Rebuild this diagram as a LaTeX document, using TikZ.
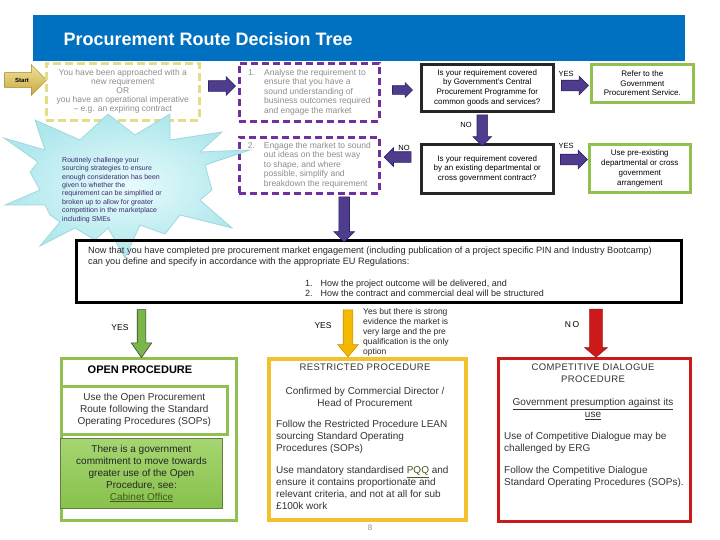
\documentclass[tikz,border=0pt]{standalone}
\usepackage{fontspec}
\setmainfont{Liberation Sans}
\usepackage{xcolor}
\definecolor{bannerblue}{HTML}{0070C0}
\definecolor{startgold}{HTML}{E8C84A}
\definecolor{startedge}{HTML}{9C8420}
\definecolor{introyellow}{HTML}{E2DE86}
\definecolor{stepviolet}{HTML}{7030A0}
\definecolor{arrowviolet}{HTML}{4F3C8C}
\definecolor{arrowedge}{HTML}{2E2366}
\definecolor{textgrey}{HTML}{8C8C8C}
\definecolor{okgreen}{HTML}{92C050}
\definecolor{okarrow}{HTML}{7AB648}
\definecolor{fillgreen}{HTML}{8FCB4F}
\definecolor{linkgreen}{HTML}{3F5A1A}
\definecolor{restrictgold}{HTML}{F2C12E}
\definecolor{arrowgold}{HTML}{F5B800}
\definecolor{dialoguered}{HTML}{CC1A1A}
\definecolor{burstcyan}{HTML}{D2F7F9}
\definecolor{burstdeep}{HTML}{AEE7EC}
\definecolor{burstedge}{HTML}{9ED8DF}
\definecolor{bursttext}{HTML}{3A2A6E}
\usepackage{tikz}
\usetikzlibrary{
  arrows.meta,
  positioning,
  shapes.arrows,
  calc,
}

\newcommand{\fsz}[2]{\fontsize{#1}{#2}\selectfont}

\begin{document}
\begin{tikzpicture}[
  x=1pt, y=-1pt,
  frame/.style={rectangle, anchor=north west, inner sep=0pt},
  introbox/.style={frame, draw=introyellow, line width=2.6pt, dash pattern=on 8pt off 4pt, text=textgrey, align=center, font=\fsz{8.5}{9}},
  stepbox/.style={frame, draw=stepviolet, line width=2.6pt, dash pattern=on 7pt off 4pt, text=textgrey, font=\fsz{8.5}{9.5}},
  askbox/.style={frame, draw=black!85, line width=2.6pt, align=center, font=\fsz{8}{9.8}},
  endbox/.style={frame, draw=okgreen, line width=2.6pt, align=center, font=\fsz{8}{9.8}},
  routebox/.style={frame, line width=3pt},
  body/.style={inner sep=0pt, text=black!80, font=\fsz{10}{12}},
  capsline/.style={inner sep=0pt, text=black!80, align=center, font=\fsz{9.5}{12}\addfontfeature{LetterSpace=4}},
  yn/.style={inner sep=0pt, font=\fsz{7.5}{9}},
  blockarr/.style={single arrow, single arrow head indent=0pt, line width=0.6pt},
  parr/.style={blockarr, fill=arrowviolet, draw=arrowedge, inner xsep=0pt, inner ysep=5pt, single arrow head extend=4pt},
  down/.style={shape border rotate=270, inner ysep=0pt, inner xsep=#1},
  garr/.style={blockarr, fill=okarrow, draw=black!75, down=4pt, single arrow head extend=6pt, single arrow tip angle=70},
  yarr/.style={blockarr, fill=arrowgold, draw=arrowgold!80!black, down=4.5pt, single arrow head extend=5.5pt, single arrow tip angle=80},
  rarr/.style={blockarr, fill=dialoguered, draw=dialoguered!80!black, down=6pt, single arrow head extend=5pt, single arrow tip angle=100},
]
  \useasboundingbox (0,0) rectangle (720,540);

  % Banner
  \node[frame, fill=bannerblue, minimum width=652pt, minimum height=46pt] (banner) at (33,15) {};
  \node[anchor=west, text=white, font=\bfseries\fsz{18}{20}] (title) at (60,39) {Procurement Route Decision Tree};

  % Entry
  \node[single arrow, single arrow head extend=8pt, single arrow head indent=0pt, inner xsep=2pt, inner ysep=5pt,
        minimum height=42pt, top color=startgold!55!white, bottom color=startgold!85!black, draw=startedge,
        font=\bfseries\fsz{6}{7}] (start) at (22,80) {Start};
  \node[introbox, minimum width=153pt, minimum height=57pt] (intro) at (45,62)
    {You have been approached with a\\new requirement\\OR\\you have an operational imperative\\-- e.g. an expiring contract};

  % Market steps
  \node[stepbox, minimum width=140pt, minimum height=58pt] (analyse) at (238,62)
    {\begin{tabular}{@{}l@{\hspace{9pt}}l@{}}1. & Analyse the requirement to\\ & ensure that you have a\\ & sound understanding of\\ & business outcomes required\\ & and engage the market\end{tabular}};
  \node[stepbox, minimum width=140pt, minimum height=56pt] (engage) at (238,136)
    {\begin{tabular}{@{}l@{\hspace{9pt}}l@{}}2. & Engage the market to sound\\ & out ideas on the best way\\ & to shape, and where\\ & possible, simplify and\\ & breakdown the requirement\end{tabular}};

  % Questions
  \node[askbox, minimum width=132pt, minimum height=47pt] (askcentral) at (420,63)
    {Is your requirement covered\\by Government's Central\\Procurement Programme for\\common goods and services?};
  \node[askbox, minimum width=132pt, minimum height=49pt] (askexisting) at (420,143)
    {Is your requirement covered\\by an existing departmental or\\cross government contract?};

  % Outcomes
  \node[endbox, minimum width=102pt, minimum height=38pt] (gps) at (590,63)
    {Refer to the\\Government\\Procurement Service.};
  \node[endbox, minimum width=101pt, minimum height=48pt] (existing) at (588,143)
    {Use pre-existing\\departmental or cross\\government\\arrangement};

  % Challenge burst
  \shade[inner color=burstcyan!50!white, outer color=burstdeep, draw=burstedge, line width=0.8pt]
    (4,138) -- (45,150) -- (35,120) -- (80,140) -- (108,114) -- (135,135) -- (170,114)
    -- (170,140) -- (222,132) -- (200,152) -- (250,150) -- (205,165) -- (212,190)
    -- (200,200) -- (232,228) -- (180,215) -- (165,234) -- (140,225) -- (125,258)
    -- (108,228) -- (95,240) -- (75,228) -- (40,246) -- (60,222) -- (50,215)
    -- (45,205) -- (5,205) -- (40,190) -- (30,172) -- (38,162) -- cycle;
  \node[anchor=north west, inner sep=0pt, align=left, text=bursttext, font=\fsz{7}{8.4}] (challenge) at (62,157)
    {Routinely challenge your\\sourcing strategies to ensure\\enough consideration has been\\given to whether the\\requirement can be simplified or\\broken up to allow for greater\\competition in the marketplace\\including SMEs};

  % Define and specify
  \node[frame, draw=black, line width=3pt, minimum width=605pt, minimum height=62pt] (define) at (75,239) {};
  \node[anchor=north west, inner sep=0pt, align=left, text=black!85, font=\fsz{9.2}{11}] (definetext) at (88,247)
    {Now that you have completed pre procurement market engagement (including publication of a project specific PIN and Industry Bootcamp)\\can you define and specify in accordance with the appropriate EU Regulations:};
  \node[anchor=north west, inner sep=0pt, text=black!85, font=\fsz{9}{10}] (deliver) at (305,279)
    {\begin{tabular}{@{}l@{\hspace{8pt}}l@{}}1. & How the project outcome will be delivered, and\\2. & How the contract and commercial deal will be structured\end{tabular}};

  % Routes
  \node[routebox, draw=okgreen, minimum width=175pt, minimum height=162pt] (open) at (60,357) {};
  \node[anchor=north, inner sep=0pt, font=\bfseries\fsz{11}{13}] (opentitle) at (140,366) {OPEN PROCEDURE};
  \node[frame, draw=okgreen, line width=2.5pt, fill=white, minimum width=166pt, minimum height=48pt,
        align=center, text=black!80, font=\fsz{10}{12}] (opensop) at (60,385)
    {Use the Open Procurement\\Route following the Standard\\Operating Procedures (SOPs)};
  \node[frame, draw=linkgreen!80, line width=1pt, top color=fillgreen!80!white, bottom color=fillgreen!95!black,
        minimum width=162pt, minimum height=70pt, align=center, text=black!85, font=\fsz{10}{12}] (commit) at (60,438)
    {There is a government\\commitment to move towards\\greater use of the Open\\Procedure, see:\\\textcolor{linkgreen}{\underline{Cabinet Office}}};

  \node[routebox, draw=restrictgold, line width=4pt, minimum width=197pt, minimum height=161pt] (restricted) at (267,357) {};
  \node[capsline, anchor=north] (restrictedtitle) at (365,364) {RESTRICTED PROCEDURE};
  \node[body, anchor=north, align=center] (confirmed) at (365,387.5)
    {Confirmed by Commercial Director /\\Head of Procurement};
  \node[body, anchor=north west, align=left] (lean) at (276,420.5)
    {Follow the Restricted Procedure LEAN\\sourcing Standard Operating\\Procedures (SOPs)};
  \node[body, anchor=north west, align=left] (pqq) at (276,466.5)
    {Use mandatory standardised \textcolor{linkgreen}{\underline{PQQ}} and\\ensure it contains proportionate and\\relevant criteria, and not at all for sub\\\pounds100k work};

  \node[routebox, draw=dialoguered, minimum width=192pt, minimum height=163pt] (dialogue) at (497,357) {};
  \node[capsline, anchor=north] (dialoguetitle) at (593,363.5) {COMPETITIVE DIALOGUE\\PROCEDURE};
  \node[body, anchor=north, align=center] (presumption) at (593,398.5)
    {\underline{Government presumption against its}\\\underline{use}};
  \node[body, anchor=north west, align=left] (erg) at (504,432.5)
    {Use of Competitive Dialogue may be\\challenged by ERG};
  \node[body, anchor=north west, align=left] (cdsop) at (504,466.5)
    {Follow the Competitive Dialogue\\Standard Operating Procedures (SOPs).};

  % Block arrows
  \node[parr, minimum height=27pt] (tostep) at ($(intro.east)!.5!(analyse.west)$) [yshift=6pt] {};
  \node[parr, minimum height=20pt, inner ysep=4pt, single arrow head extend=3pt] (toask) at ($(analyse.east)!.5!(askcentral.west)$) {};
  \node[parr, minimum height=27pt] (yescentral) at ($(askcentral.east)!.5!(gps.west)$) {};
  \node[parr, down=5pt, minimum height=31pt] (nocentral) at ($(askcentral.south)!.5!(askexisting.north)$) [xshift=-5pt] {};
  \node[parr, minimum height=27pt, shape border rotate=180] (noexisting) at ($(askexisting.west)!.5!(engage.east)$) [yshift=10pt] {};
  \node[parr, minimum height=27pt] (yesexisting) at ($(askexisting.east)!.5!(existing.west)$) [yshift=9pt] {};
  \node[parr, down=5pt, minimum height=45pt, single arrow head extend=5pt] (todefine) at ($(engage.south)!.5!(define.north)$) {};

  \node[garr, minimum height=48pt] (yesopen) at ($(define.south -| open.north)!.5!(open.north)$) [xshift=-7.5pt] {};
  \node[yarr, minimum height=47pt] (yesrestricted) at ($(define.south -| restricted.north)!.5!(restricted.north)$) [xshift=-19.5pt] {};
  \node[rarr, minimum height=48pt] (nodialogue) at ($(define.south -| dialogue.north)!.5!(dialogue.north)$) [xshift=1.5pt] {};

  % Labels
  \node[yn] (yes1) at (566,74) {YES};
  \node[yn] (no1) at (466,125) {NO};
  \node[yn] (no2) at (404,148) {NO};
  \node[yn] (yes2) at (566,146) {YES};
  \node[yn, font=\fsz{8.5}{10}] (yes3) at (120,328) {YES};
  \node[yn, font=\fsz{8.5}{10}] (yes4) at (323,326) {YES};
  \node[yn, font=\fsz{8.5}{10}\addfontfeature{LetterSpace=20}] (no3) at (572,325) {NO};
  \node[anchor=north west, inner sep=0pt, align=left, text=black!85, font=\fsz{8.5}{9.8}] (largemarket) at (363,308.5)
    {Yes but there is strong\\evidence the market is\\very large and the pre\\qualification is the only\\option};

  \node[text=textgrey, font=\fsz{8}{9}] (pagenum) at (370,528) {8};
\end{tikzpicture}
\end{document}
